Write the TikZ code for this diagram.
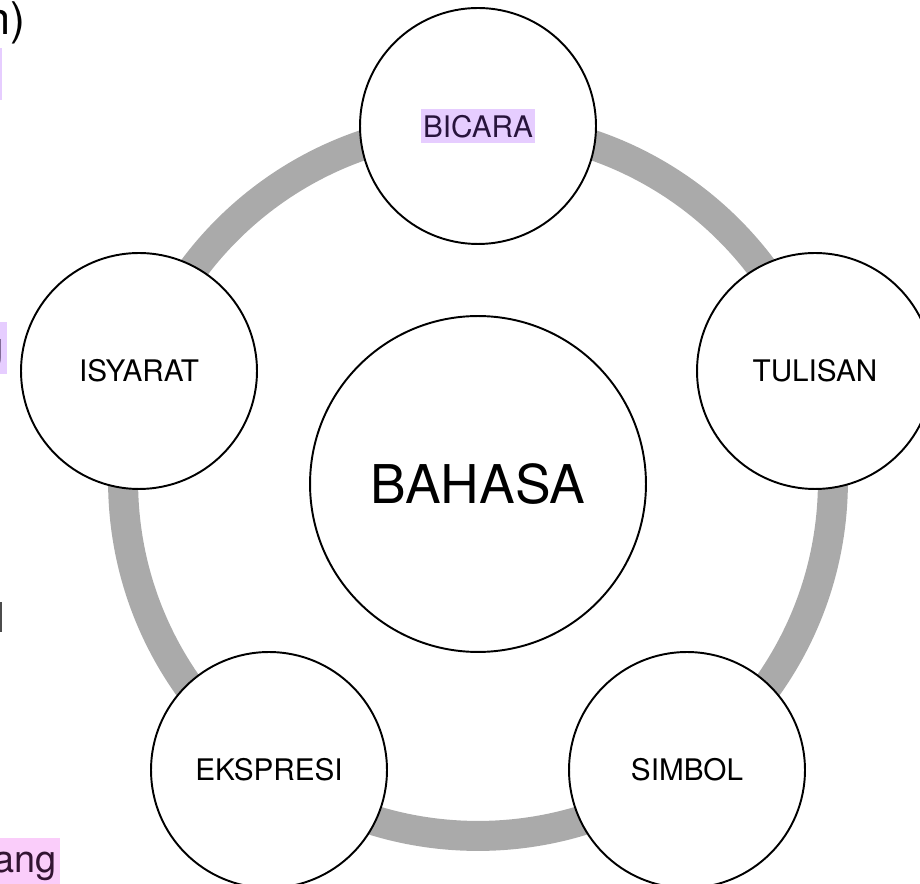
\documentclass[tikz,border=0pt]{standalone}
\usepackage{fontspec}
\setmainfont{TeX Gyre Heros}
\definecolor{ringgray}{RGB}{170,170,170}
\definecolor{hlpurple}{RGB}{230,205,255}
\definecolor{hlpink}{RGB}{250,205,250}
\definecolor{inkpurple}{RGB}{40,20,60}
\definecolor{inkplum}{RGB}{50,20,50}
\begin{document}
\begin{tikzpicture}[x=0.02cm,y=-0.02cm,
  petal/.style={circle, draw=black, fill=white, line width=1.1pt,
    minimum size=4.72cm, inner sep=0pt,
    font=\fontsize{16.9}{20}\selectfont},
  core/.style={circle, draw=black, fill=white, line width=1.1pt,
    minimum size=6.72cm, inner sep=0pt,
    font=\fontsize{30.4}{36}\selectfont},
  marker/.style={fill=hlpurple, text=inkpurple, inner xsep=1.2pt, inner ysep=0pt,
    text height=16pt, text depth=3.4pt,
    font=\fontsize{16.9}{20}\selectfont},
  edgetext/.style={inner sep=0pt}]
\useasboundingbox (0,0) rectangle (920,884);
\clip (0,0) rectangle (920,884);

% cut-off text along the left margin
\fill[hlpurple] (0,48) rectangle (2,100);
\node[edgetext, anchor=base east, font=\fontsize{25.6}{30}\selectfont] (fragn) at (26,35) {n)};
\fill[hlpurple] (0,322) rectangle (7,374);
\node[edgetext, anchor=base east, text=inkpurple, font=\fontsize{23.9}{28}\selectfont] (fragg) at (4.5,362) {g};
\fill[black!70] (0,602) rectangle (2.5,632);
\fill[hlpink] (0,838) rectangle (60,884);
\node[edgetext, anchor=base east, text=inkplum, font=\fontsize{21.6}{26}\selectfont] (fragang) at (57,872) {ang};

% grey ring linking the five forms
\draw[ringgray, line width=0.6cm] (478,481) circle [radius=7.1cm];

% centre and surrounding forms
\node[core] (bahasa) at (478,484) {BAHASA};
\node[petal] (bicara) at (478,126) {};
\node[marker] (bicaralbl) at (bicara) {BICARA};
\node[petal] (tulisan) at (815,371) {TULISAN};
\node[petal] (simbol) at (687,770) {SIMBOL};
\node[petal] (ekspresi) at (269,770) {EKSPRESI};
\node[petal] (isyarat) at (139,371) {ISYARAT};
\end{tikzpicture}
\end{document}
